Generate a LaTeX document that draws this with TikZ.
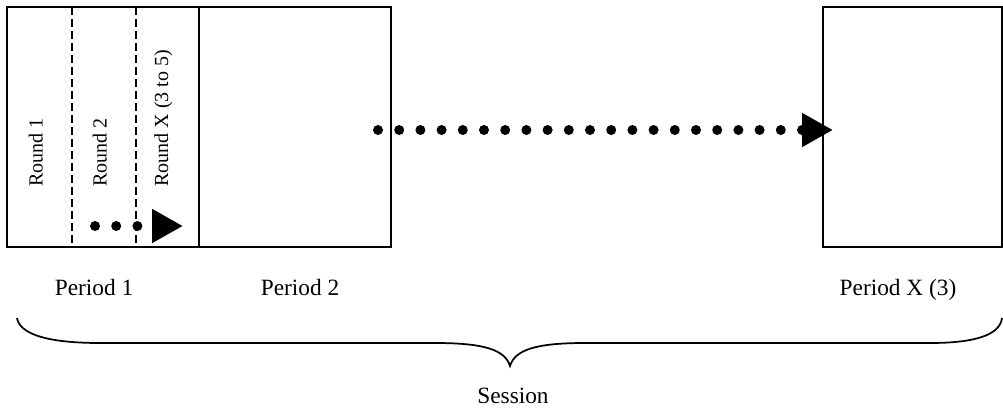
\documentclass[tikz,border=0pt]{standalone}
\usepackage{fontspec}
\setmainfont{Liberation Serif}
\usepackage{tikz}
\usetikzlibrary{arrows.meta, positioning, calc}

\begin{document}
\begin{tikzpicture}[x=0.75pt, y=-0.75pt,
    box/.style={draw, line width=1.4pt},
    roundline/.style={line width=1.2pt, dash pattern=on 6pt off 3pt},
    roundlabel/.style={rotate=90, anchor=base west, inner sep=0pt, font=\fontsize{15}{18}\selectfont},
    periodlabel/.style={anchor=base, inner sep=0pt, font=\fontsize{17.5}{21}\selectfont},
    dotarrow/.style={line width=7.5pt, line cap=round, dash pattern=on 0pt off 15.9pt,
        -{Triangle[length=23.25pt, width=24pt]}}]
    \useasboundingbox (0,0) rectangle (1003,407);

    % Period boxes
    \draw[box] (7,7) rectangle (199,247);
    \draw[box] (199,7) rectangle (391,247);
    \draw[box] (823,7) rectangle (1002,247);

    % Rounds inside Period 1
    \draw[roundline] (72,7) -- (72,247);
    \draw[roundline] (136,7) -- (136,247);
    \node[roundlabel] (round1) at (42.5,187) {Round 1};
    \node[roundlabel] (round2) at (106.5,187) {Round 2};
    \node[roundlabel] (roundx) at (168,187) {Round X (3 to 5)};

    % Dotted arrows
    \coordinate (roundstart) at (95,226);
    \coordinate (roundend) at (183,226);
    \draw[dotarrow] (roundstart) -- (roundend);
    \coordinate (periodstart) at (378,130);
    \coordinate (periodend) at (833,130);
    \draw[dotarrow] (periodstart) -- (periodend);

    % Labels
    \node[periodlabel] (period1) at (94,295) {Period 1};
    \node[periodlabel] (period2) at (300,295) {Period 2};
    \node[periodlabel] (periodx) at (898,295) {Period X (3)};

    % Brace
    \draw[line width=1.3pt] (17,318) .. controls (20,335) and (50,343) .. (100,343)
        -- (435,343) .. controls (485,343) and (505,350) .. (510,366)
        .. controls (515,350) and (535,343) .. (585,343)
        -- (930,343) .. controls (975,343) and (1000,335) .. (1002,318);
    \node[periodlabel] (session) at (513,403) {Session};
\end{tikzpicture}
\end{document}
